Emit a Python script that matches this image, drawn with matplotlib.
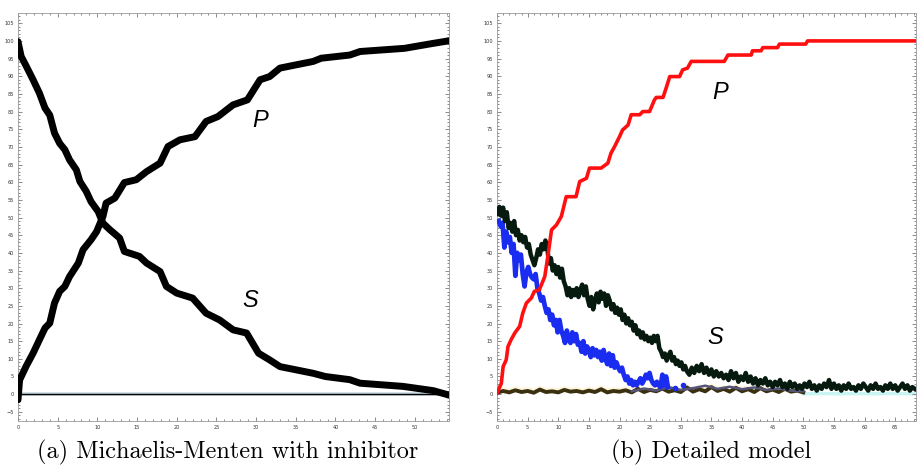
import numpy as np
import matplotlib
matplotlib.use("Agg")
import matplotlib.pyplot as plt
from matplotlib.ticker import MultipleLocator

# ---- (a) Michaelis-Menten with inhibitor ----
mm_s_t = [0, 0.4, 1.05, 1.9, 2.7, 3.4, 4.0, 4.6, 5.25, 5.9, 6.5, 7.35, 7.8, 8.6, 9.2,
          10.1, 10.7, 11.6, 12.8, 13.4, 15.3, 16.2, 17.9, 18.7, 20.0, 22.0, 23.7, 25.4,
          27.1, 28.8, 30.3, 31.7, 33.0, 37.2, 38.7, 41.8, 43.1, 48.5, 52.3, 54.2]
mm_s = [99.8, 95.6, 92.8, 89.0, 85.2, 81.0, 79.0, 73.9, 71.0, 69.2, 66.3, 63.5, 60.2, 57.4,
        54.5, 51.7, 48.4, 46.5, 44.2, 40.4, 39.0, 37.1, 34.7, 30.5, 28.6, 27.2, 22.9, 21.0,
        18.2, 17.3, 11.6, 9.7, 7.8, 5.9, 5.0, 4.1, 3.1, 2.2, 1.0, -0.2]

mm_p_t = [0, 0.2, 1.0, 1.9, 2.7, 3.4, 4.0, 4.6, 5.25, 5.9, 6.5, 7.6, 8.2, 9.2, 9.9, 10.7,
          11.1, 12.2, 13.4, 14.9, 16.2, 17.9, 18.9, 20.4, 22.3, 23.7, 25.2, 27.1, 28.9,
          30.5, 31.7, 33.0, 37.2, 38.2, 41.8, 43.1, 48.7, 52.3, 54.2]
mm_p = [-1.6, 4.0, 7.8, 11.6, 15.4, 18.7, 20.1, 25.8, 29.1, 30.5, 33.3, 37.1, 40.9, 43.7,
        46.0, 50.3, 54.1, 55.5, 59.9, 60.7, 63.0, 65.4, 70.1, 72.0, 72.9, 77.2, 78.6, 81.9,
        83.3, 89.0, 89.9, 92.3, 94.2, 95.1, 96.0, 97.0, 97.9, 99.3, 100.0]

# ---- (b) Detailed model ----
dm_p_t = [0, 0.7, 1.0, 1.5, 1.8, 2.3, 2.9, 3.7, 4.2, 4.8, 5.6, 6.1, 6.9, 7.8, 8.3, 8.9,
          9.7, 10.5, 11.3, 12.9, 13.5, 14.6, 15.1, 17.0, 18.1, 18.6, 19.2, 20.0, 20.5,
          21.4, 21.9, 23.3, 23.8, 24.9, 25.7, 26.0, 27.1, 27.6, 28.2, 29.8, 30.3, 31.1,
          31.7, 37.1, 37.7, 41.5, 41.7, 43.1, 43.4, 45.8, 46.1, 50.4, 50.7, 68.5]
dm_p = [0.3, 3.0, 7.8, 9.7, 13.5, 15.4, 17.3, 19.2, 22.9, 25.8, 27.2, 29.1, 29.5, 33.3,
        39.0, 46.5, 47.9, 50.3, 55.9, 55.9, 60.2, 61.1, 64.0, 64.0, 65.4, 68.2, 70.1, 72.9,
        74.8, 76.2, 79.1, 79.1, 80.0, 80.0, 83.3, 84.0, 84.0, 86.6, 89.9, 89.9, 91.8, 92.3,
        94.2, 94.2, 96.0, 96.0, 97.2, 97.2, 98.1, 98.1, 99.1, 99.1, 100.0, 100.0]

dm_s_t = [0.1, 0.4, 0.7, 1.0, 1.3, 1.6, 1.9, 2.2, 2.5, 2.8, 3.1, 3.4, 3.7, 4.0, 4.3, 4.6,
          4.9, 5.2, 5.5, 5.8, 6.1, 6.4, 6.7, 7.0, 7.3, 7.6, 7.9, 8.2, 8.5, 8.8, 9.1, 9.4,
          9.7, 10.0, 10.3, 10.6, 10.9, 11.2, 11.5, 11.8, 12.1, 12.4, 12.7, 13.0, 13.3, 13.6,
          13.9, 14.2, 14.5, 14.8, 15.1, 15.4, 15.7, 16.0, 16.3, 16.6, 16.9, 17.2, 17.5, 17.8,
          18.1, 18.4, 18.7, 19.0, 19.3, 19.6, 19.9, 20.2, 20.5, 20.8, 21.1, 21.4, 21.7, 22.0,
          22.3, 22.6, 22.9, 23.2, 23.5, 23.8, 24.1, 24.4, 24.7, 25.0, 25.3, 25.6, 25.9, 26.2,
          26.5, 26.8, 27.1, 27.4, 27.7, 28.0, 28.3, 28.6, 28.9, 29.2, 29.5, 29.8, 30.1, 30.4,
          30.7, 31.0, 31.4, 31.8, 32.2, 32.6, 33.0, 33.4, 33.8, 34.2, 34.6, 35.0, 35.4, 35.8,
          36.2, 36.6, 37.0, 37.4, 37.8, 38.2, 38.6, 39.0, 39.4, 39.8, 40.2, 40.6, 41.0, 41.4,
          41.8, 42.2, 42.6, 43.0, 43.4, 43.8, 44.2, 44.6, 45.0, 45.4, 45.8, 46.2, 46.6, 47.0,
          47.4, 47.8, 48.2, 48.6, 49.0, 49.4, 49.8, 50.2, 50.6, 51.0, 51.4, 51.8, 52.2, 52.6,
          53.0, 53.4, 53.8, 54.2, 54.6, 55.0, 55.4, 55.8, 56.2, 56.6, 57.0, 57.4, 57.8, 58.2,
          58.6, 59.0, 59.4, 59.8, 60.2, 60.6, 61.0, 61.4, 61.8, 62.2, 62.6, 63.0, 63.4, 63.8,
          64.2, 64.6, 65.0, 65.4, 65.8, 66.2, 66.6, 67.0, 67.4, 67.8, 68.2]
dm_s = [51.0, 53.0, 50.5, 52.8, 49.0, 51.5, 47.0, 48.5, 46.0, 49.0, 45.0, 46.5, 43.5, 45.0,
        43.0, 44.5, 41.5, 42.5, 39.5, 38.0, 36.5, 38.5, 41.0, 39.5, 42.5, 41.0, 43.5, 41.5,
        37.0, 38.5, 35.0, 36.5, 34.0, 36.0, 33.0, 35.5, 32.0, 30.5, 28.0, 30.0, 27.5, 29.5,
        28.0, 30.0, 27.5, 29.5, 31.0, 28.0, 30.5, 27.0, 25.0, 27.5, 24.0, 26.5, 28.5, 26.0,
        29.0, 27.0, 28.5, 25.0, 28.0, 26.5, 24.0, 25.5, 23.0, 24.5, 22.5, 24.0, 21.0, 22.5,
        20.0, 21.5, 19.5, 20.5, 18.0, 19.5, 17.0, 18.0, 16.0, 17.5, 15.5, 16.5, 15.0, 16.0,
        14.5, 16.5, 15.0, 16.5, 13.0, 12.0, 10.5, 11.5, 9.5, 11.0, 12.0, 9.5, 10.5, 8.5, 9.5,
        8.0, 9.0, 7.0, 8.0, 6.5, 5.5, 7.5, 6.0, 8.0, 6.5, 8.5, 6.0, 7.5, 5.5, 7.0, 5.0, 6.5,
        5.0, 6.0, 4.5, 5.5, 4.0, 6.5, 4.5, 6.0, 3.5, 5.0, 4.0, 6.0, 3.5, 5.0, 3.0, 4.5, 2.5,
        4.0, 3.0, 4.5, 2.5, 3.5, 2.0, 3.5, 2.5, 4.0, 2.0, 3.0, 1.5, 3.5, 2.0, 3.0, 1.5, 2.5,
        1.5, 3.0, 2.0, 3.5, 1.5, 2.5, 1.0, 2.5, 1.5, 3.0, 2.0, 4.0, 1.5, 3.0, 1.5, 2.5, 1.0,
        2.5, 1.5, 3.0, 1.5, 2.0, 1.0, 2.5, 1.5, 3.0, 2.0, 1.0, 2.5, 1.5, 3.0, 1.5, 2.0, 1.0,
        2.5, 1.5, 3.0, 1.5, 2.5, 1.0, 2.0, 3.0, 1.5, 2.5, 1.0, 2.0, 1.5]

dm_e_t = [0.3, 0.6, 0.9, 1.2, 1.5, 1.8, 2.1, 2.4, 2.7, 3.0, 3.3, 3.6, 3.9, 4.2, 4.5, 4.8,
          5.1, 5.4, 5.7, 6.0, 6.3, 6.6, 6.9, 7.2, 7.5, 7.8, 8.1, 8.4, 8.7, 9.0, 9.3, 9.6,
          9.9, 10.2, 10.5, 10.8, 11.1, 11.4, 11.7, 12.0, 12.3, 12.6, 12.9, 13.2, 13.5, 13.8,
          14.1, 14.4, 14.7, 15.0, 15.3, 15.6, 15.9, 16.2, 16.5, 16.8, 17.1, 17.4, 17.7, 18.0,
          18.3, 18.6, 18.9, 19.2, 19.5, 19.8, 20.1, 20.4, 20.7, 21.0, 21.3, 21.6, 21.9, 22.2,
          22.5, 22.8, 23.1, 23.4, 23.7, 24.0, 24.3, 24.6, 24.9, 25.2, 25.5, 25.8, 26.1, 26.4,
          26.7, 27.0, 27.3, 27.6, 27.9]
dm_e = [49.0, 47.5, 48.5, 41.5, 46.0, 43.0, 44.5, 40.0, 42.5, 33.5, 40.0, 38.0, 39.5, 34.0,
        30.5, 34.5, 36.0, 34.0, 33.0, 32.5, 34.0, 30.0, 28.5, 26.5, 27.5, 25.0, 23.0, 24.0,
        21.0, 22.5, 19.5, 21.0, 17.5, 21.0, 18.0, 16.5, 14.5, 18.0, 15.5, 14.5, 17.5, 15.0,
        17.0, 14.0, 14.5, 12.0, 15.0, 11.5, 13.5, 12.5, 10.5, 13.0, 11.0, 12.5, 10.5, 12.0,
        9.5, 12.5, 10.0, 8.5, 11.5, 8.0, 11.0, 7.5, 9.0, 7.5, 6.5, 7.5, 5.5, 4.0, 5.0, 3.0,
        4.0, 2.5, 3.5, 2.5, 3.5, 4.5, 3.0, 4.0, 5.5, 4.5, 6.0, 4.0, 3.0, 2.5, 3.5, 2.5, 2.0,
        5.5, 2.5, 5.0, 2.0]
dm_e_dot_t = [29.0, 30.3]
dm_e_dot = [1.8, 2.6]

dm_c_t = [0, 1, 2, 3, 4, 5, 6, 7, 8, 9, 10, 11, 12, 13, 14, 15, 16, 17, 18, 19, 20, 21,
          22, 23, 24, 25, 26, 27, 28, 29, 30, 31, 32, 33, 34, 35, 36, 37, 38, 39, 40, 41,
          42, 43, 44, 45, 46, 47, 48, 49, 50]
dm_c = [0.4, 0.9, 0.5, 1.1, 0.6, 0.9, 0.4, 1.3, 0.6, 0.8, 0.5, 1.2, 0.7, 0.9, 0.5, 1.0,
        0.6, 1.4, 0.5, 0.9, 0.7, 1.1, 0.5, 1.5, 0.6, 1.2, 0.8, 1.6, 0.7, 1.1, 0.6, 1.9, 0.7,
        1.4, 0.8, 2.0, 0.9, 1.5, 0.7, 1.8, 0.8, 1.4, 0.6, 1.7, 0.8, 1.3, 0.6, 1.5, 0.7, 1.0,
        0.5]
dm_i_t = [22, 24, 26, 28, 30, 32, 34, 36, 38, 40, 42, 44, 46, 48, 50]
dm_i = [0.8, 1.6, 1.0, 2.0, 1.2, 1.7, 2.4, 1.5, 2.1, 1.4, 1.9, 1.2, 1.6, 1.0, 0.8]
dm_f_t = [50, 53, 56, 59, 62, 65, 68.5]
dm_f = [0.1, 0.2, 0.1, 0.2, 0.1, 0.2, 0.1]

major_x = 5
major_y = 5

fig = plt.figure(figsize=(9.17, 4.74), dpi=100)
ax1 = fig.add_axes([18 / 917, 53 / 474, 431 / 917, 408 / 474])
ax2 = fig.add_axes([497 / 917, 53 / 474, 419 / 917, 408 / 474])


def frame(ax, xmax):
    ax.set_xlim(0, xmax)
    ax.set_ylim(-7.6, 107.9)
    ax.xaxis.set_major_locator(MultipleLocator(major_x))
    ax.xaxis.set_minor_locator(MultipleLocator(1))
    ax.yaxis.set_major_locator(MultipleLocator(major_y))
    ax.yaxis.set_minor_locator(MultipleLocator(1))
    ax.tick_params(which="both", direction="in", top=True, right=True,
                   colors="#777777", width=0.6)
    ax.tick_params(which="major", length=3, labelsize=3.6, pad=3,
                   labelcolor="#333333")
    ax.tick_params(which="minor", length=1.5)
    for sp in ax.spines.values():
        sp.set_color("#999999")
        sp.set_linewidth(0.6)


frame(ax1, 54.3)
frame(ax2, 68.4)

# left panel
ax1.axhline(0, color="#c8d8e0", lw=2.6, zorder=1)
ax1.axhline(0, color="black", lw=1.0, zorder=2)
ax1.plot(mm_s_t, mm_s, color="black", lw=5.0, solid_capstyle="round",
         solid_joinstyle="round", zorder=3)
ax1.plot(mm_p_t, mm_p, color="black", lw=5.0, solid_capstyle="round",
         solid_joinstyle="round", zorder=3)
ax1.text(30.5, 77.6, "P", fontsize=17, style="italic", family="Liberation Sans",
         ha="center", va="center")
ax1.text(29.3, 26.6, "S", fontsize=17, style="italic", family="Liberation Sans",
         ha="center", va="center")

# right panel
ax2.plot(dm_f_t, dm_f, color="#c8f4f4", lw=2.5, zorder=1)
ax2.plot(dm_c_t, [v + 0.8 for v in dm_c], color="#fff4d8", lw=1.5, zorder=1)
ax2.plot(dm_c_t, dm_c, color="#3a3010", lw=2.8, zorder=2)
ax2.plot(dm_i_t, dm_i, color="#55557a", lw=1.8, zorder=2)
ax2.plot(dm_e_t, dm_e, color="#1a2cf0", lw=3.4, zorder=3)
ax2.plot(dm_e_dot_t, dm_e_dot, ls="none", marker="o", ms=3, color="#1a2cf0", zorder=3)
ax2.plot(dm_s_t, dm_s, color="#061a10", lw=3.2, zorder=4)
ax2.plot(dm_p_t, dm_p, color="#ff1010", lw=2.6, zorder=5)
ax2.text(36.5, 85.5, "P", fontsize=17, style="italic", family="Liberation Sans",
         ha="center", va="center")
ax2.text(35.7, 16.1, "S", fontsize=17, style="italic", family="Liberation Sans",
         ha="center", va="center")

fig.text(228 / 917, 1 - 452 / 474, "(a) Michaelis-Menten with inhibitor",
         family="cmr10", fontsize=17.5, ha="center", va="center")
fig.text(711 / 917, 1 - 452 / 474, "(b) Detailed model",
         family="cmr10", fontsize=17.5, ha="center", va="center")

fig.savefig("out.png", dpi=100)
